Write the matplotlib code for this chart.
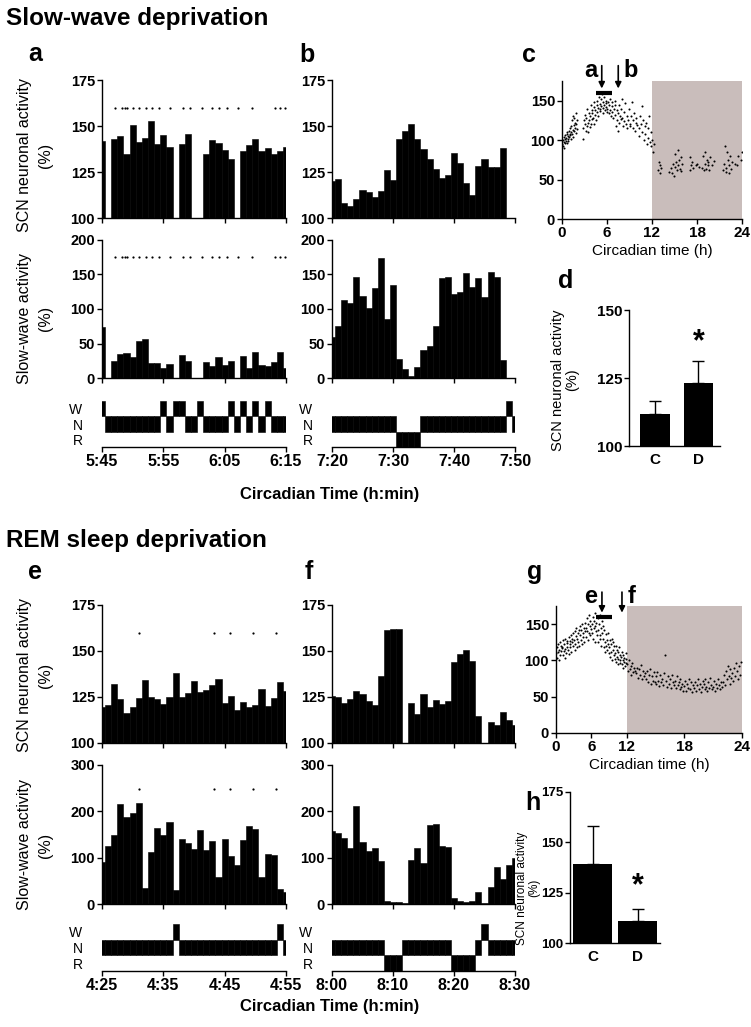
import numpy as np
import matplotlib
matplotlib.use('Agg')
import matplotlib.pyplot as plt

plt.rcParams['font.family'] = ['Liberation Sans', 'DejaVu Sans']
plt.rcParams['font.weight'] = 'bold'

W, H = 751, 1027

# one-minute epochs, centred on whole minutes
minutes = np.arange(31)
nan = np.nan

a_scn = [142, nan, 143, 144.5, 135, 150.5, 141.5, 143.5, 152.5, 140, 145, 138.5, nan, 140, 145.5,
         nan, nan, 135, 142.5, 140.5, 137, 132, nan, 136.5, 139.5, 143, 136.5, 138, 135, 136.5, 138.5]
a_swa = [73.7, nan, 24.6, 34.7, 36, 30.8, 54, 56.4, 21.7, 21.7, 14, 20, nan, 33.7, 24.6,
         nan, nan, 23.6, 16.9, 29.9, 18.3, 24.1, nan, 32.3, 14, 38, 18.3, 17.3, 23.6, 38, 14]
a_states = "WNNNNNNNNNWNWWNNWNNNNWNWNWNWNNN"
a_sig = [2.2, 3.3, 3.7, 4.1, 5.1, 6.1, 7.2, 8.2, 9.3, 11.1, 13.2, 14.4, 16.3, 17.9, 19.0,
         20.3, 22.1, 24.4, 28.2, 29.0, 29.8]
a_sig_scn, a_sig_swa = 160, 175
a_ticks = ['5:45', '5:55', '6:05', '6:15']

b_scn = [120, 121, 108, 106.3, 110.5, 115, 113.9, 111.4, 114.6, 125.9, 120.4, 142.9, 147.4, 151.2,
         143.2, 137.4, 132.2, 126.8, 121.7, 123.3, 135.1, 129.8, 119, 112.3, 128.2, 132, 127.7,
         127.5, 138, nan, nan]
b_swa = [60, 76, 113, 108, 146, 119, 101, 131, 174.5, 86, 134.5, 27.5, 12.5, 3.4, 16, 41, 46,
         76, 144.6, 147, 121.4, 125.3, 151.8, 132.5, 144.6, 117, 154, 147, 25.5, nan, nan]
b_states = "NNNNNNNNNNNRRRRNNNNNNNNNNNNNNWN"
b_ticks = ['7:20', '7:30', '7:40', '7:50']

e_scn = [119.5, 120.4, 132, 124, 116.3, 119.7, 124.6, 134.4, 125, 124, 121, 125.1, 138.3, 125.1,
         127.3, 133.8, 127.5, 128.9, 131.6, 134.9, 121.7, 125.7, 117.9, 122.2, 119.7, 120.4,
         129.5, 120.3, 124.6, 132.9, 128]
e_swa = [91, 126, 148, 216, 187, 196, 218, 35, 112, 163, 149, 178, 30, 140, 132, 119, 160, 116.5,
         136, 59, 139.6, 103, 84, 137.4, 168, 161, 57.6, 108.6, 106.5, 32.4, 25]
e_states = "NNNNNNNNNNNNWNNNNNNNNNNNNNNNNWN"
e_sig = [6.0, 18.2, 20.9, 24.7, 28.4]
e_sig_scn, e_sig_swa = 160, 248
e_ticks = ['4:25', '4:35', '4:45', '4:55']

f_scn = [125.3, 125, 121.7, 123.7, 128.2, 126.8, 122.6, 120.6, 136.3, 161.5, 161.8, 162.2, nan,
         121.7, 116, 126.9, 119.5, 123.1, 121, 122.6, 143.8, 148.1, 150.5, 144.8, 114.5, nan,
         111.6, 110, 116.6, 112.7, 110]
f_swa = [157.6, 154, 143, 121.6, 211.5, 134.5, 115, 121.6, 92, 5.8, 5, 4.3, 2.9, 95, 121.6, 89,
         170, 172.7, 125, 122.3, 12.9, 7.2, 4.3, 5.8, 25.2, 2.2, 37.4, 79, 54, 84, 99.3]
f_states = "NNNNNNNNNRRRNNNNNNNNRRRRNWNNNNN"
f_ticks = ['8:00', '8:10', '8:20', '8:30']

# circadian profile, slow-wave deprivation experiment
c_hour = [0.05, 0.1, 0.15, 0.2, 0.25, 0.3, 0.35, 0.4, 0.45, 0.5, 0.55, 0.6, 0.65, 0.7, 0.75, 0.8,
          0.85, 0.9, 0.95, 1.0,
          1.05, 1.1, 1.15, 1.2, 1.25, 1.3, 1.35, 1.4, 1.45, 1.5, 1.55, 1.6, 1.65, 1.7, 1.75, 1.8,
          1.85, 1.9, 1.95, 2.0,
          2.75, 2.85, 2.9, 3.0, 3.1, 3.15, 3.2, 3.3, 3.35, 3.4, 3.5, 3.55, 3.6, 3.7, 3.75, 3.8,
          3.9, 3.95, 4.0,
          4.05, 4.1, 4.2, 4.25, 4.3, 4.4, 4.45, 4.5, 4.6, 4.65, 4.7, 4.8, 4.85, 4.9, 5.0,
          5.05, 5.1, 5.2, 5.25, 5.3, 5.4, 5.45, 5.5, 5.6, 5.65, 5.7, 5.8, 5.85, 5.9, 6.0,
          6.05, 6.1, 6.2, 6.3, 6.35, 6.4, 6.5, 6.6, 6.65, 6.7, 6.8, 6.9, 7.0,
          7.05, 7.1, 7.2, 7.3, 7.35, 7.4, 7.5, 7.6, 7.65, 7.7, 7.8, 7.9, 8.0,
          8.05, 8.1, 8.2, 8.3, 8.4, 8.5, 8.6, 8.7, 8.8, 8.9, 9.0,
          9.1, 9.2, 9.3, 9.4, 9.5, 9.6, 9.7, 9.8, 9.9, 10.0,
          10.2, 10.3, 10.4, 10.5, 10.6, 10.7, 10.8, 10.9, 11.0,
          11.1, 11.2, 11.3, 11.4, 11.5, 11.6, 11.7, 11.8, 11.9, 12.0, 12.1, 12.2,
          12.8, 12.9, 13.0, 13.1, 13.2,
          14.3, 14.5, 14.7, 14.8, 14.9, 15.0, 15.1, 15.2, 15.3, 15.4, 15.5, 15.6, 15.7, 15.8,
          15.9, 16.0,
          17.0, 17.1, 17.2, 17.3, 17.4, 17.8, 18.0, 18.3,
          18.7, 18.8, 18.9, 19.0, 19.1, 19.2, 19.3, 19.4, 19.5, 19.6, 19.7, 20.0, 20.2,
          21.5, 21.6, 21.7, 21.8, 21.9, 22.0, 22.1, 22.2, 22.3, 22.4, 22.5, 22.6,
          23.0, 23.3, 23.5, 23.8, 24.0]
c_val = [95, 100, 92, 104, 98, 90, 101, 97, 106, 99, 103, 108, 96, 110, 102, 105, 99, 112, 104, 108,
         106, 115, 102, 118, 110, 125, 108, 113, 130, 104, 119, 112, 128, 116, 122, 109, 135, 120,
         114, 126,
         115, 102, 125, 120, 132, 112, 128, 118, 140, 122, 110, 135, 126, 117, 130, 145, 121, 138, 127,
         135, 128, 142, 120, 148, 132, 138, 125, 145, 136, 150, 130, 141, 155, 137,
         146, 139, 152, 143, 158, 135, 148, 141, 155, 144, 138, 150, 142, 147, 136,
         140, 148, 134, 145, 138, 152, 131, 143, 136, 149, 128, 140, 145,
         132, 150, 118, 138, 125, 112, 135, 145, 122, 130, 140, 127, 152,
         128, 118, 136, 124, 147, 120, 131, 115, 126, 139, 121,
         118, 130, 148, 116, 125, 135, 112, 122, 128, 119,
         115, 105, 130, 120, 143, 110, 125, 100, 118,
         108, 122, 95, 115, 103, 130, 98, 110, 92, 100, 85, 95,
         62, 72, 58, 68, 65,
         60, 65, 58, 70, 55, 82, 66, 72, 62, 88, 68, 75, 64, 78, 61, 70,
         62, 78, 68, 72, 65, 68, 70, 66,
         65, 80, 62, 70, 85, 64, 75, 68, 72, 62, 78, 68, 74,
         62, 70, 92, 65, 60, 85, 75, 68, 58, 80, 64, 72,
         70, 68, 80, 75, 85]

# circadian profile, REM sleep deprivation experiment
g_hour = [0.05, 0.15, 0.2, 0.3, 0.4, 0.45, 0.55, 0.6, 0.7, 0.8, 0.85, 0.95,
          1.05, 1.15, 1.2, 1.3, 1.4, 1.45, 1.55, 1.6, 1.7, 1.8, 1.85, 1.95,
          2.05, 2.15, 2.2, 2.3, 2.4, 2.45, 2.55, 2.6, 2.7, 2.8, 2.85, 2.95,
          3.05, 3.15, 3.2, 3.3, 3.4, 3.45, 3.55, 3.6, 3.7, 3.8, 3.85, 3.95,
          4.05, 4.15, 4.2, 4.3, 4.4, 4.45, 4.55, 4.6, 4.7, 4.8, 4.85, 4.95,
          5.05, 5.15, 5.2, 5.3, 5.4, 5.45, 5.55, 5.6, 5.7, 5.8, 5.85, 5.95,
          6.05, 6.15, 6.2, 6.3, 6.4, 6.45, 6.55, 6.6, 6.7, 6.8, 6.85, 6.95,
          7.05, 7.15, 7.2, 7.3, 7.4, 7.45, 7.55, 7.6, 7.7, 7.8, 7.85, 7.95,
          8.05, 8.15, 8.2, 8.3, 8.4, 8.45, 8.55, 8.6, 8.7, 8.8, 8.85, 8.95,
          9.05, 9.15, 9.2, 9.3, 9.4, 9.45, 9.55, 9.6, 9.7, 9.8, 9.85, 9.95,
          10.05, 10.15, 10.2, 10.3, 10.4, 10.45, 10.55, 10.6, 10.7, 10.8, 10.85, 10.95,
          11.05, 11.15, 11.2, 11.3, 11.4, 11.45, 11.55, 11.6, 11.7, 11.8, 11.85, 11.95,
          12.05, 12.15, 12.2, 12.3, 12.4, 12.5, 12.6, 12.7, 12.8, 12.9,
          13.0, 13.1, 13.2, 13.3, 13.4, 13.5, 13.6, 13.7, 13.8, 13.9,
          14.0, 14.1, 14.2, 14.3, 14.4, 14.5, 14.6, 14.7, 14.8, 14.9,
          15.0, 15.1, 15.2, 15.3, 15.4, 15.5, 15.6, 15.7, 15.8, 15.9,
          16.0, 16.1, 16.2, 16.3, 16.4, 16.5, 16.6, 16.7, 16.8, 16.9,
          17.0, 17.1, 17.2, 17.3, 17.4, 17.5, 17.6, 17.7, 17.8, 17.9,
          18.0, 18.1, 18.2, 18.3, 18.4, 18.5, 18.6, 18.7, 18.8, 18.9,
          19.0, 19.1, 19.2, 19.3, 19.4, 19.5, 19.6, 19.7, 19.8, 19.9,
          20.0, 20.1, 20.2, 20.3, 20.4, 20.5, 20.6, 20.7, 20.8, 20.9,
          21.0, 21.1, 21.2, 21.3, 21.4, 21.5, 21.6, 21.7, 21.8, 21.9,
          22.0, 22.1, 22.2, 22.3, 22.4, 22.5, 22.6, 22.7, 22.8, 22.9,
          23.0, 23.1, 23.2, 23.3, 23.4, 23.5, 23.6, 23.7, 23.8, 23.9]
g_val = [110, 118, 104, 122, 112, 100, 115, 125, 108, 120, 113, 117,
         119, 108, 128, 113, 122, 104, 130, 116, 110, 124, 118, 127,
         115, 132, 109, 122, 127, 118, 135, 112, 125, 130, 120, 138,
         128, 115, 140, 122, 133, 145, 118, 130, 138, 125, 142, 120,
         135, 148, 128, 142, 122, 150, 138, 132, 145, 126, 152, 140,
         145, 132, 158, 140, 150, 128, 162, 138, 148, 155, 135, 143,
         150, 138, 160, 130, 145, 155, 126, 148, 165, 140, 152, 135,
         142, 158, 125, 150, 135, 162, 130, 145, 120, 155, 138, 148,
         130, 118, 142, 125, 112, 136, 120, 128, 115, 138, 122, 110,
         118, 128, 105, 122, 112, 130, 100, 115, 125, 108, 120, 102,
         110, 98, 120, 105, 115, 95, 112, 102, 118, 100, 108, 96,
         105, 95, 112, 100, 90, 108, 98, 104, 92, 110, 96, 102,
         95, 85, 100, 88, 92, 80, 96, 84, 90, 86,
         82, 90, 76, 88, 80, 94, 74, 85, 78, 83,
         75, 85, 70, 80, 88, 68, 78, 72, 84, 70,
         78, 68, 84, 72, 65, 80, 70, 75, 66, 82,
         108, 72, 64, 78, 68, 74, 62, 80, 70, 66,
         72, 62, 78, 66, 70, 60, 75, 64, 68, 58,
         65, 72, 58, 68, 62, 75, 60, 70, 56, 66,
         62, 70, 58, 66, 74, 60, 68, 56, 64, 72,
         68, 60, 74, 64, 58, 70, 62, 76, 66, 60,
         64, 72, 58, 68, 62, 75, 66, 60, 70, 63,
         70, 80, 66, 85, 74, 92, 78, 68, 88, 76,
         82, 72, 90, 78, 96, 85, 75, 92, 80, 98]

groups = ['C', 'D']
d_mean = [111.6, 123.0]
d_err = [4.9, 8.4]
h_mean = [139.0, 111.0]
h_err = [19.0, 6.0]

# window markers on the circadian plots (hours)
c_arrows = [5.3, 7.5]
c_window = [4.5, 6.6]
g_arrows = [7.8, 11.2]
g_window = [6.8, 9.5]

# panel g: light phase drawn narrower than the dark phase (share of axis width)
g_light_share = 0.38


def g_fwd(h):
    h = np.asarray(h, dtype=float)
    return np.where(h <= 12, h / 12 * g_light_share,
                    g_light_share + (h - 12) / 12 * (1 - g_light_share))


def g_inv(u):
    u = np.asarray(u, dtype=float)
    return np.where(u <= g_light_share, u / g_light_share * 12,
                    12 + (u - g_light_share) / (1 - g_light_share) * 12)


def axes_px(fig, x0, y0, x1, y1):
    return fig.add_axes([x0 / W, 1 - y1 / H, (x1 - x0) / W, (y1 - y0) / H])


def clean(ax, size=10.5):
    ax.spines['top'].set_visible(False)
    ax.spines['right'].set_visible(False)
    ax.spines['left'].set_linewidth(1)
    ax.spines['bottom'].set_linewidth(1)
    ax.tick_params(direction='out', length=3.5, width=1, labelsize=size, pad=1.5)


def bar_panel(ax, vals, ylim, yticks, sig=None, sig_y=None):
    ax.bar(minutes, vals, width=1.0, color='k', edgecolor='k', linewidth=0.4)
    ax.set_xlim(0, 30)
    ax.set_ylim(*ylim)
    ax.set_yticks(yticks)
    ax.set_xticks([0, 10, 20, 30])
    ax.set_xticklabels([])
    clean(ax)
    if sig is not None:
        ax.plot(sig, [sig_y] * len(sig), 'o', color='k', ms=1.6, mew=0)


def hypno(ax, states, labels):
    rows = {'W': 2, 'N': 1, 'R': 0}
    ax.bar(minutes, np.ones(len(states)), bottom=[rows[s] for s in states], width=1.0,
           color='k', edgecolor='k', linewidth=0.4)
    ax.set_xlim(0, 30)
    ax.set_ylim(0, 3)
    clean(ax, 11.5)
    ax.spines['left'].set_visible(False)
    ax.set_yticks([2.5, 1.5, 0.5])
    ax.set_yticklabels(['W', 'N', 'R'], fontweight='normal', fontsize=10)
    ax.tick_params(axis='y', length=0, pad=14)
    ax.set_xticks([0, 10, 20, 30])
    ax.set_xticklabels(labels)


def circ_panel(ax, hours, vals, arrows, window):
    ax.axvspan(12, 24, color='#c9bdbb', lw=0)
    ax.scatter(hours, vals, s=2.2, c='k', linewidths=0)
    ax.set_xlim(0, 24)
    ax.set_ylim(0, 175)
    ax.set_xticks([0, 6, 12, 18, 24])
    ax.set_yticks([0, 50, 100, 150])
    clean(ax, 10.5)
    ax.tick_params(axis='x', labelsize=11)
    ax.plot(window, [160, 160], color='k', lw=3, solid_capstyle='butt')
    for xa in arrows:
        ax.annotate('', xy=(xa, 162), xytext=(xa, 198), annotation_clip=False,
                    arrowprops=dict(arrowstyle='-|>', color='k', lw=1.2, mutation_scale=9))
    ax.set_xlabel('Circadian time (h)', fontsize=11, labelpad=3)
    return ax


def mean_panel(ax, means, errs, ylim, yticks, star_y, width, size, xlim):
    xs = np.arange(len(groups))
    ax.bar(xs, means, width=width, color='k')
    ax.errorbar(xs, means, yerr=[np.zeros(len(errs)), errs], fmt='none', ecolor='k',
                elinewidth=1, capsize=4, capthick=1)
    ax.set_xlim(*xlim)
    ax.set_ylim(*ylim)
    ax.set_yticks(yticks)
    ax.set_xticks(xs)
    ax.set_xticklabels(groups)
    clean(ax, size)
    ax.tick_params(axis='x', length=0, pad=5, labelsize=11)
    ax.text(1, star_y, '*', ha='center', va='center', fontsize=22)


fig = plt.figure(figsize=(W / 100, H / 100), dpi=100)

# --- slow-wave deprivation ---
bar_panel(axes_px(fig, 102, 80, 286, 218), a_scn, (100, 175), [100, 125, 150, 175], a_sig, a_sig_scn)
bar_panel(axes_px(fig, 102, 240, 286, 378), a_swa, (0, 200), [0, 50, 100, 150, 200], a_sig, a_sig_swa)
hypno(axes_px(fig, 102, 401, 286, 447), a_states, a_ticks)

bar_panel(axes_px(fig, 332, 80, 515, 218), b_scn, (100, 175), [100, 125, 150, 175])
bar_panel(axes_px(fig, 332, 240, 515, 378), b_swa, (0, 200), [0, 50, 100, 150, 200])
hypno(axes_px(fig, 332, 401, 515, 447), b_states, b_ticks)

ax_c = circ_panel(axes_px(fig, 562, 81, 742, 219), c_hour, c_val, c_arrows, c_window)
ax_c.text(c_arrows[0] - 1.5, 188, 'a', ha='center', va='center', fontsize=17)
ax_c.text(c_arrows[1] + 1.7, 188, 'b', ha='center', va='center', fontsize=17)
mean_panel(axes_px(fig, 629, 310, 720, 446), d_mean, d_err, (100, 150), [100, 125, 150], 138,
           0.68, 11, (-0.6, 1.5))

# --- REM sleep deprivation ---
bar_panel(axes_px(fig, 102, 605, 286, 743), e_scn, (100, 175), [100, 125, 150, 175], e_sig, e_sig_scn)
bar_panel(axes_px(fig, 102, 765, 286, 904), e_swa, (0, 300), [0, 100, 200, 300], e_sig, e_sig_swa)
hypno(axes_px(fig, 102, 924, 286, 971), e_states, e_ticks)

bar_panel(axes_px(fig, 332, 605, 515, 743), f_scn, (100, 175), [100, 125, 150, 175])
bar_panel(axes_px(fig, 332, 765, 515, 904), f_swa, (0, 300), [0, 100, 200, 300])
hypno(axes_px(fig, 332, 924, 515, 971), f_states, f_ticks)

ax_g = axes_px(fig, 556, 606, 742, 733)
ax_g.set_xscale('function', functions=(g_fwd, g_inv))
circ_panel(ax_g, g_hour, g_val, g_arrows, g_window)
ax_g.text(g_arrows[0] - 2.0, 188, 'e', ha='center', va='center', fontsize=17)
ax_g.text(g_arrows[1] + 1.3, 188, 'f', ha='center', va='center', fontsize=17)
mean_panel(axes_px(fig, 570, 792, 660, 943), h_mean, h_err, (100, 175), [100, 125, 150, 175], 128,
           0.85, 9.5, (-0.5, 1.5))

# --- texts ---
def ftext(x, y, s, **kw):
    fig.text(x / W, 1 - y / H, s, **kw)

ftext(6, 18, 'Slow-wave deprivation', fontsize=17.5, va='center')
ftext(6, 540, 'REM sleep deprivation', fontsize=17.5, va='center')
for lab, x, y in [('a', 28, 54), ('b', 299, 55), ('c', 522, 55), ('d', 558, 281),
                  ('e', 28, 572), ('f', 305, 572), ('g', 527, 572), ('h', 525, 803)]:
    ftext(x, y, lab, fontsize=18, va='center')

ylab = dict(rotation=90, ha='center', va='center', multialignment='center',
            fontweight='normal')
ftext(35, 155, 'SCN neuronal activity\n(%)', fontsize=11.5, linespacing=1.45, **ylab)
ftext(35, 318, 'Slow-wave activity\n(%)', fontsize=11.5, linespacing=1.45, **ylab)
ftext(35, 675, 'SCN neuronal activity\n(%)', fontsize=11.5, linespacing=1.45, **ylab)
ftext(35, 845, 'Slow-wave activity\n(%)', fontsize=11.5, linespacing=1.45, **ylab)
ftext(565, 380, 'SCN neuronal activity\n(%)', fontsize=10.5, linespacing=1.0, **ylab)
ftext(528, 888, 'SCN neuronal activity\n(%)', fontsize=8.5, linespacing=1.0, **ylab)

ftext(330, 494, 'Circadian Time (h:min)', fontsize=12, ha='center', va='center')
ftext(330, 1006, 'Circadian Time (h:min)', fontsize=12, ha='center', va='center')

fig.savefig('out.png', dpi=100)
